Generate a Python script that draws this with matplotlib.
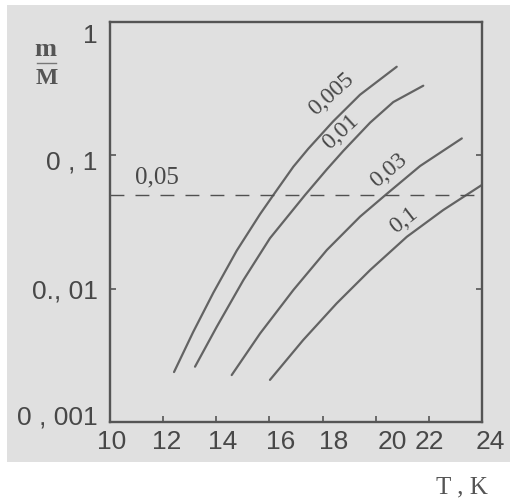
import matplotlib
matplotlib.use('Agg')
import matplotlib.pyplot as plt
import matplotlib.transforms as mtransforms
from matplotlib.patches import Rectangle
from matplotlib.lines import Line2D
from matplotlib.ticker import NullLocator

# кривые m/M(T) для разных параметров
t_005 = [12.41, 13.13, 13.89, 14.77, 15.65, 16.21, 16.90, 17.46, 18.40, 19.41, 20.79]
m_005 = [0.00237, 0.00473, 0.00933, 0.0193, 0.0363, 0.0525, 0.0822, 0.112, 0.180, 0.285, 0.462]

t_01 = [13.20, 14.02, 15.02, 16.02, 17.34, 18.16, 18.78, 19.79, 20.66, 21.79]
m_01 = [0.0026, 0.00519, 0.0116, 0.0239, 0.0504, 0.0785, 0.108, 0.176, 0.251, 0.333]

t_03 = [14.58, 15.65, 16.90, 18.16, 19.41, 20.41, 21.67, 23.24]
m_03 = [0.00225, 0.00462, 0.00977, 0.0195, 0.0347, 0.0513, 0.0832, 0.134]

t_1 = [16.02, 17.27, 18.53, 19.79, 21.17, 22.54, 23.99]
m_1 = [0.00207, 0.00412, 0.00776, 0.0138, 0.0245, 0.0389, 0.0599]

curve_labels = ['0,005', '0,01', '0,03', '0,1']
label_t = [18.35, 18.70, 20.50, 21.05]
label_m = [0.285, 0.150, 0.0775, 0.0325]
label_rot = [42, 43, 40, 38]

level = 0.05
level_label = '0,05'

xticks = [10, 12, 14, 16, 18, 20, 22, 24]
xticklabels = ['10', '12', '14', '16', '18', '20', '22', '24']
yticks = [0.001, 0.01, 0.1, 1]
yticklabels = ['0 , 001', '0., 01', '0 , 1', '1']

bg = '#e0e0e0'
ink = '#484848'
line_c = '#636363'

fig = plt.figure(figsize=(5.13, 5.03), dpi=100, facecolor='white')
fig.patches.append(Rectangle((0.0136, 0.0815), 0.98, 0.9085, transform=fig.transFigure,
                             facecolor=bg, edgecolor='none', zorder=-10))
ax = fig.add_axes([0.2144, 0.161, 0.7252, 0.7952])
ax.set_facecolor(bg)

for t, m in [(t_005, m_005), (t_01, m_01), (t_03, m_03), (t_1, m_1)]:
    ax.plot(t, m, color=line_c, linewidth=1.6, solid_capstyle='round', solid_joinstyle='round')

ax.axhline(level, color='#505050', linewidth=1.0, dashes=(10, 8))
ax.text(11.77, 0.0688, level_label, family='Liberation Serif', fontsize=18,
        color=ink, ha='center', va='center')

for lab, x, y, r in zip(curve_labels, label_t, label_m, label_rot):
    ax.text(x, y, lab, family='Liberation Serif', fontsize=17, color=ink,
            rotation=r, rotation_mode='anchor', ha='center', va='center')

ax.set_yscale('log')
ax.set_xlim(10, 24)
ax.set_ylim(0.001, 1)
ax.yaxis.set_minor_locator(NullLocator())
ax.set_xticks(xticks, xticklabels)
ax.set_yticks(yticks, yticklabels)

for s in ax.spines.values():
    s.set_color('#555555')
    s.set_linewidth(1.7)

ax.tick_params(axis='both', direction='in', length=4, width=1.2, color='#555555',
               labelcolor=ink, labelsize=19)
ax.tick_params(axis='x', pad=6)
ax.tick_params(axis='y', pad=9, right=True)
for lbl in ax.get_xticklabels() + ax.get_yticklabels():
    lbl.set_family('Liberation Sans')

# подписи по оси X на скане немного смещены
xlabel_dx = [2, 4, 6, 11, 11, 17, 1, 8]
for lbl, dx in zip(ax.get_xticklabels(), xlabel_dx):
    lbl.set_transform(lbl.get_transform() + mtransforms.ScaledTranslation(dx / 100, 0, fig.dpi_scale_trans))
ylab_dy = [7, 0, -5, -11]
for lbl, dy in zip(ax.get_yticklabels(), ylab_dy):
    lbl.set_transform(lbl.get_transform() + mtransforms.ScaledTranslation(0, dy / 100, fig.dpi_scale_trans))

# m / M
fig.text(45 / 513, 1 - 50 / 503, 'm', family='Liberation Serif', fontweight='bold',
         fontsize=19, color='#555555', ha='center', va='center')
fig.text(47 / 513, 1 - 79 / 503, 'M', family='Liberation Serif', fontweight='bold',
         fontsize=17, color='#555555', ha='center', va='center')
fig.add_artist(Line2D([37 / 513, 56 / 513], [1 - 63 / 503, 1 - 63 / 503],
                      transform=fig.transFigure, color='#777777', linewidth=1.0))

fig.text(462 / 513, 1 - 487 / 503, 'T , K', family='Liberation Serif', fontsize=18,
         color='#555555', ha='center', va='center')

fig.savefig('out.png', dpi=100, facecolor='white')
